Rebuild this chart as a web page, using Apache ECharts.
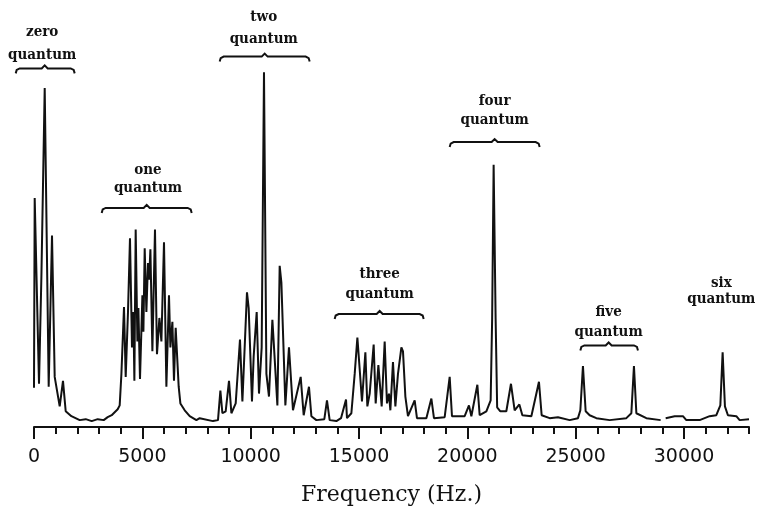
<!DOCTYPE html>
<html>
<head>
<meta charset="utf-8">
<script src="https://cdn.jsdelivr.net/npm/echarts@6/dist/echarts.min.js"></script>
<style>
  html, body { margin: 0; padding: 0; background: #fff; }
  #main { width: 760px; height: 511px; }
</style>
</head>
<body>
<div id="main"></div>
<script>
// spectrum: frequency (Hz) and height above the axis line
var freqHz = [
  0, 32, 231, 342, 494, 678, 831, 955, 1186, 1338, 1463, 1726,
  2109, 2386, 2663, 2940, 3217, 3401, 3586, 3724, 3863, 3955,
  4034, 4154, 4232, 4338, 4430, 4523, 4587, 4633, 4693, 4772, 4818, 4892,
  5003, 5049, 5109, 5187, 5261, 5315, 5372, 5464, 5584, 5676, 5787, 5880,
  6000, 6110, 6230, 6295, 6387, 6461, 6539, 6678, 6756, 6955, 7186, 7495,
  7647, 8261, 8492, 8602, 8695, 8847, 9000, 9110, 9309, 9507, 9618, 9692,
  9830, 9908, 10061, 10139, 10278, 10384, 10508, 10615, 10726, 10845,
  11002, 11062, 11233, 11339, 11418, 11602, 11768, 11953, 12308, 12447,
  12691, 12802, 13033, 13400, 13522, 13646, 13956,
  14170, 14401, 14445, 14648, 14801, 14925, 15031, 15137, 15294, 15386,
  15493, 15677, 15770, 15894, 15954, 16047, 16185, 16291, 16383, 16448,
  16568, 16679, 16799, 16956, 17030, 17140, 17260, 17339, 17569, 17675,
  18109, 18340, 18460, 18954, 19185, 19291, 19877, 20075, 20186, 20463,
  20569, 20878, 21076, 21145, 21214, 21306, 21376, 21524, 21800, 22014,
  22184, 22401, 22540, 22955, 23306, 23430, 23800, 24183, 24722,
  25106, 25216, 25336, 25461, 25646, 25955, 26569, 27339, 27570, 27690,
  27801, 28263, 28923, 29040, 29154, 29569, 29951, 30108, 30722, 31183,
  31492, 31677, 31783, 31889, 32027, 32415, 32568, 33000
];
var intensity = [
  40, 233, 44, 154, 345, 41, 195, 51, 21, 47, 16, 11,
  7, 8, 6, 8, 7, 10, 12, 15, 18, 22,
  54, 122, 51, 117, 192, 81, 117, 47, 201, 87, 121, 49,
  134, 97, 182, 117, 167, 150, 181, 77, 201, 74, 111, 87,
  188, 41, 134, 81, 107, 47, 101, 41, 24, 17, 11, 7,
  9, 6, 7, 37, 14, 16, 47, 14, 24, 89, 26, 27,
  137, 121, 26, 72, 117, 34, 81, 361, 54, 31,
  109, 87, 22, 164, 147, 22, 81, 17, 51, 12,
  41, 11, 7, 8, 27, 7, 6,
  9, 28, 9, 14, 54, 91, 59, 26, 76, 21,
  34, 84, 24, 63, 61, 21, 87, 24, 34, 17,
  66, 21, 54, 81, 77, 31, 11, 11, 27, 9,
  9, 29, 9, 10, 51, 11, 11, 22, 11, 43,
  12, 16, 27, 110, 267, 110, 20, 16, 16, 44,
  17, 23, 12, 11, 46, 12, 9, 10, 7,
  9, 17, 62, 16, 12, 9, 7, 9, 14, 62,
  14, 9, 7, null, 9, 11, 11, 7, 7, 11,
  12, 22, 76, 21, 12, 11, 7, 8
];

var majorTicks = [0, 5000, 10000, 15000, 20000, 25000, 30000];
var minorTicks = [0, 1000, 2000, 3000, 4000, 5000, 6000, 7000, 8000, 9000, 10000,
  11000, 12000, 13000, 14000, 15000, 16000, 17000, 18000, 19000, 20000, 21000,
  22000, 23000, 24000, 25000, 26000, 27000, 28000, 29000, 30000, 31000, 32000, 33000];

// bracket annotations
var quantumNames = ['zero', 'one', 'two', 'three', 'four', 'five', 'six'];
var bracketStartHz = [-845, 3124, 8570, 13877, 19185, 25216, null];
var bracketEndHz = [1878, 7278, 12723, 17985, 23338, 27875, null];
var bracketTipHz = [494, 5201, 10647, 15954, 21260, 26523, null];
var bracketLevel = [365, 223, 377, 115, 290, 83, null];
var labelHz = [378, 5261, 10602, 15954, 21261, 26522, 31722];
var wordLevel = [397.5, 257.3, 412.3, 151, 327, 112.3, 142.3];
var quantumLevel = [373.5, 239, 390.7, 130.7, 307.3, 92.3, 125.7];

var spectrum = freqHz.map(function (f, i) { return [f, intensity[i]]; });

var myChart = echarts.init(document.getElementById('main'));

var option = {
  backgroundColor: '#fff',
  animation: false,
  grid: { left: 34, right: 11, top: 34, bottom: 77 },
  xAxis: [{
    type: 'value',
    min: 0,
    max: 33000,
    position: 'bottom',
    name: 'Frequency (Hz.)',
    nameLocation: 'middle',
    nameGap: 57,
    nameTextStyle: { fontFamily: 'DejaVu Serif', fontSize: 22, color: '#111' },
    axisLine: { show: true, lineStyle: { color: '#111', width: 2 } },
    axisTick: { show: true, length: 12, customValues: majorTicks, lineStyle: { color: '#111', width: 2 } },
    axisLabel: {
      customValues: majorTicks,
      margin: 21,
      fontFamily: 'DejaVu Sans',
      fontSize: 19,
      color: '#111',
      formatter: function (v) { return String(v); }
    },
    splitLine: { show: false }
  }, {
    type: 'value',
    min: 0,
    max: 33000,
    position: 'bottom',
    axisLine: { show: false },
    axisTick: { show: true, length: 7, customValues: minorTicks, lineStyle: { color: '#111', width: 2 } },
    axisLabel: { show: false },
    splitLine: { show: false }
  }],
  yAxis: {
    type: 'value',
    min: 0,
    max: 400,
    show: false
  },
  series: [{
    type: 'line',
    data: spectrum,
    showSymbol: false,
    connectNulls: false,
    lineStyle: { color: '#111', width: 2 }
  }]
};

myChart.setOption(option);

var graphics = [];
var px = function (x, y) { return myChart.convertToPixel({ gridIndex: 0 }, [x, y]); };
var labelFont = {
  fontFamily: "'DejaVu Serif Condensed', 'DejaVu Serif'",
  fontWeight: 'bold',
  fontSize: 15,
  fill: '#111',
  align: 'center',
  verticalAlign: 'middle'
};

for (var i = 0; i < quantumNames.length; i++) {
  if (bracketStartHz[i] !== null) {
    var a = px(bracketStartHz[i], bracketLevel[i]);
    var b = px(bracketEndHz[i], bracketLevel[i]);
    var c = px(bracketTipHz[i], bracketLevel[i]);
    var y = a[1];
    graphics.push({
      type: 'polyline',
      shape: {
        points: [
          [a[0], y + 5], [a[0] + 1, y + 1.5], [a[0] + 4, y],
          [c[0] - 3, y], [c[0], y - 3], [c[0] + 3, y],
          [b[0] - 4, y], [b[0] - 1, y + 1.5], [b[0], y + 5]
        ]
      },
      style: { fill: null, stroke: '#111', lineWidth: 2 }
    });
  }
  var w = px(labelHz[i], wordLevel[i]);
  var q = px(labelHz[i], quantumLevel[i]);
  graphics.push({
    type: 'text', x: w[0], y: w[1] - 4.5,
    style: Object.assign({ text: quantumNames[i] }, labelFont)
  });
  graphics.push({
    type: 'text', x: q[0], y: q[1] - 4.5,
    style: Object.assign({ text: 'quantum' }, labelFont)
  });
}

myChart.setOption({ graphic: graphics });
</script>
</body>
</html>
